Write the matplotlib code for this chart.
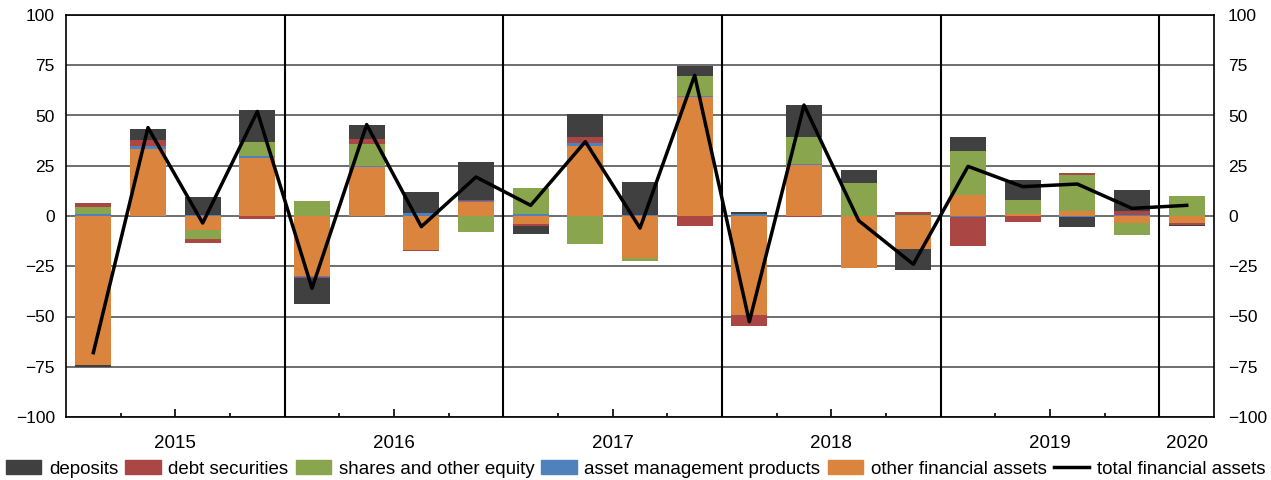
import numpy as np
import matplotlib
matplotlib.use("Agg")
import matplotlib.pyplot as plt
from matplotlib.patches import Patch
from matplotlib.lines import Line2D

plt.rcParams["font.family"] = ["Liberation Sans", "DejaVu Sans"]

# quarters 2015Q1 .. 2020Q1
years = ["2015", "2016", "2017", "2018", "2019", "2020"]

deposits = [-1, 5.5, 9, 15.5, -13, 7, 10.6, 18.8, -4, 11.4, 16.2, 4.7,
            0.8, 16, 6.5, -10.3, 7, 10, -5, 10.2, -0.5]
debt = [2, 3, -2, -1.3, -0.5, 2.3, -0.5, 0.6, -1, 3, 0, -4.8,
        -5.3, -0.7, 0, 1.3, -14.4, -3, 1, 2.2, -1]
shares = [3.5, 0, -4.5, 7, 7.5, 11, 0, -7.8, 12.7, -13.8, -1.4, 10.2,
          0, 13.3, 16.4, 0.7, 22, 7, 18, -6, 10]
amp = [1, 1.2, 0.5, 1, -0.5, 0.6, 1.3, 0.5, 1, 1.3, 0.5, 0.7,
       1, 0.5, 0, 0, -0.5, 0, -0.5, 0.5, 0]
other = [-74, 33.5, -7, 29, -29.7, 24.4, -17, 6.8, -4, 35, -21, 59,
         -49.3, 25.5, -25.7, -16.4, 10.4, 1, 2.5, -3.5, -3.5]
total = [-68, 44, -3.5, 52, -36, 45.5, -5.3, 19.4, 5.3, 37, -6, 70,
         -52.6, 55.2, -2.3, -24, 24.7, 14.6, 15.9, 3.8, 5.3]

COLORS = {
    "deposits": "#404040",
    "debt securities": "#aa4643",
    "shares and other equity": "#89a54e",
    "asset management products": "#4f81bd",
    "other financial assets": "#db843d",
}

# stacking order from zero outward
stack = [("other financial assets", other),
         ("asset management products", amp),
         ("shares and other equity", shares),
         ("debt securities", debt),
         ("deposits", deposits)]

n = len(total)
x = np.arange(n)

fig = plt.figure(figsize=(12.71, 4.8), dpi=100)
ax = fig.add_axes([66 / 1271, 1 - 417 / 480, (1214 - 66) / 1271, 402 / 480])

pos = np.zeros(n)
neg = np.zeros(n)
for name, vals in stack:
    v = np.array(vals, dtype=float)
    p = np.where(v > 0, v, 0)
    m = np.where(v < 0, v, 0)
    ax.bar(x, p, 0.66, bottom=pos, color=COLORS[name], zorder=3, linewidth=0)
    ax.bar(x, m, 0.66, bottom=neg, color=COLORS[name], zorder=3, linewidth=0)
    pos += p
    neg += m

ax.plot(x, total, color="black", linewidth=2.5, zorder=4)

ax.set_xlim(-0.5, n - 0.5)
ax.set_ylim(-100, 100)
yt = np.arange(-100, 101, 25)
ytl = [str(v).replace("-", "\u2212") for v in yt]
ax.set_yticks(yt)
ax.set_yticklabels(ytl, fontsize=12.5)
ax.tick_params(axis="y", length=0, pad=8)
ax.yaxis.grid(True, color="#555555", linewidth=1.2, zorder=0)

for b in [3.5, 7.5, 11.5, 15.5, 19.5]:
    ax.axvline(b, color="black", linewidth=1.5, zorder=5)

ax.set_xticks([1.5, 5.5, 9.5, 13.5, 17.5, 20])
ax.set_xticklabels(years, fontsize=13.5)
ax.set_xticks([q + 0.5 for q in range(n - 1) if (q + 1) % 2 == 1], minor=True)
ax.tick_params(axis="x", which="major", direction="in", length=6, width=1.2, pad=13)
ax.tick_params(axis="x", which="minor", direction="in", length=3, width=1.2)
ax.xaxis.get_major_ticks()[-1].tick1line.set_visible(False)

for s in ax.spines.values():
    s.set_color("black")
    s.set_linewidth(1.2)

ax2 = ax.twinx()
ax2.set_ylim(-100, 100)
ax2.set_yticks(yt)
ax2.set_yticklabels(ytl, fontsize=12.5)
ax2.tick_params(axis="y", length=0, pad=10)
for s in ax2.spines.values():
    s.set_visible(False)

handles = [Patch(color=COLORS[k]) for k in COLORS]
labels = list(COLORS.keys())
handles.append(Line2D([], [], color="black", linewidth=2.5))
labels.append("total financial assets")
fig.legend(handles, labels, loc="center", bbox_to_anchor=(0.5, 11 / 480),
           ncol=6, frameon=False, fontsize=13.5, handlelength=1.9,
           handleheight=0.75, handletextpad=0.4, columnspacing=0.38,
           borderpad=0, borderaxespad=0)

fig.savefig("out.png", dpi=100)
